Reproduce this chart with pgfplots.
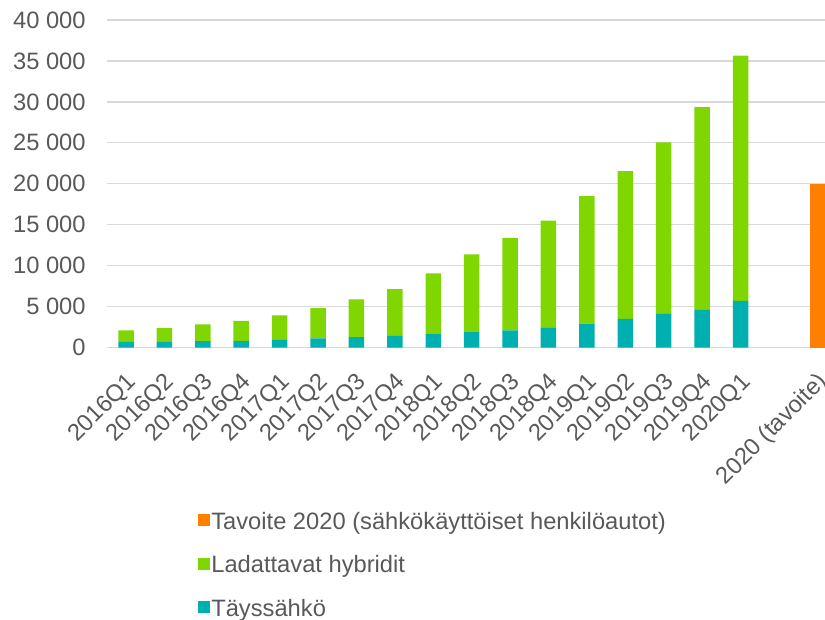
\documentclass[border=0pt]{standalone}
\usepackage{pgfplots}
\pgfplotsset{compat=1.18}
\usepackage{fontspec}
\setmainfont{Liberation Sans}
\definecolor{tealc}{RGB}{0,176,176}
\definecolor{greenc}{RGB}{128,214,0}
\definecolor{orangec}{RGB}{255,128,0}
\definecolor{gridc}{RGB}{217,217,217}
\definecolor{txtc}{RGB}{89,89,89}
\begin{document}
\begin{tikzpicture}
\begin{axis}[name=ax, at={(0,0)}, anchor=south west,
  scale only axis, width=718.2pt, height=327.5pt,
  xmin=-0.5, xmax=18.2, ymin=0, ymax=40000,
  ybar stacked, bar width=15.5pt,
  axis line style={draw=none},
  scaled y ticks=false,
  ymajorgrids, grid style={color=gridc, line width=1.3pt},
  major tick length=0pt,
  xtick={0,1,2,3,4,5,6,7,8,9,10,11,12,13,14,15,16,18},
  xticklabels={2016Q1,2016Q2,2016Q3,2016Q4,2017Q1,2017Q2,2017Q3,2017Q4,2018Q1,2018Q2,2018Q3,2018Q4,2019Q1,2019Q2,2019Q3,2019Q4,2020Q1,2020 (tavoite)},
  ytick={0,5000,10000,15000,20000,25000,30000,35000,40000},
  yticklabels={0,5 000,10 000,15 000,20 000,25 000,30 000,35 000,40 000},
  tick label style={font=\fontsize{23.7pt}{28pt}\selectfont, text=txtc, inner sep=0pt},
  xticklabel style={xshift=6.7pt, yshift=-31pt, rotate=45, anchor=east},
  yticklabel style={anchor=east, xshift=-21pt},
  reverse legend,
  legend style={at={(0.123,-0.497)}, anchor=north west, draw=none, fill=none,
    font=\fontsize{23.7pt}{28pt}\selectfont, text=txtc, row sep=21.5pt,
    nodes={inner sep=0pt, text height=17pt, text depth=5pt},
    /tikz/every even column/.append style={column sep=0pt},
    /tikz/every odd column/.append style={column sep=1pt}},
  legend cell align=left,
]
\addplot[fill=tealc, draw=none, legend image code/.code={\fill[tealc] (0pt,-3pt) rectangle (12pt,9pt);}] coordinates {
(0,690) (1,700) (2,770) (3,810) (4,930) (5,1100) (6,1260) (7,1420) (8,1630) (9,1870) (10,2080) (11,2400) (12,2930) (13,3500) (14,4160) (15,4650) (16,5700) (18,0)};
\addlegendentry{Täyssähkö}
\addplot[fill=greenc, draw=none, legend image code/.code={\fill[greenc] (0pt,-3pt) rectangle (12pt,9pt);}] coordinates {
(0,1390) (1,1660) (2,2040) (3,2450) (4,2980) (5,3700) (6,4610) (7,5710) (8,7420) (9,9500) (10,11320) (11,13100) (12,15570) (13,18050) (14,20890) (15,24700) (16,29960) (18,0)};
\addlegendentry{Ladattavat hybridit}
\addplot[fill=orangec, draw=none, legend image code/.code={\fill[orangec] (0pt,-3pt) rectangle (12pt,9pt);}] coordinates {
(0,0) (1,0) (2,0) (3,0) (4,0) (5,0) (6,0) (7,0) (8,0) (9,0) (10,0) (11,0) (12,0) (13,0) (14,0) (15,0) (16,0) (18,20000)};
\addlegendentry{Tavoite 2020 (sähkökäyttöiset henkilöautot)}
\end{axis}
\pgfresetboundingbox
\useasboundingbox (-106.8pt,-271.5pt) rectangle (718.2pt,347.5pt);
\end{tikzpicture}
\end{document}
